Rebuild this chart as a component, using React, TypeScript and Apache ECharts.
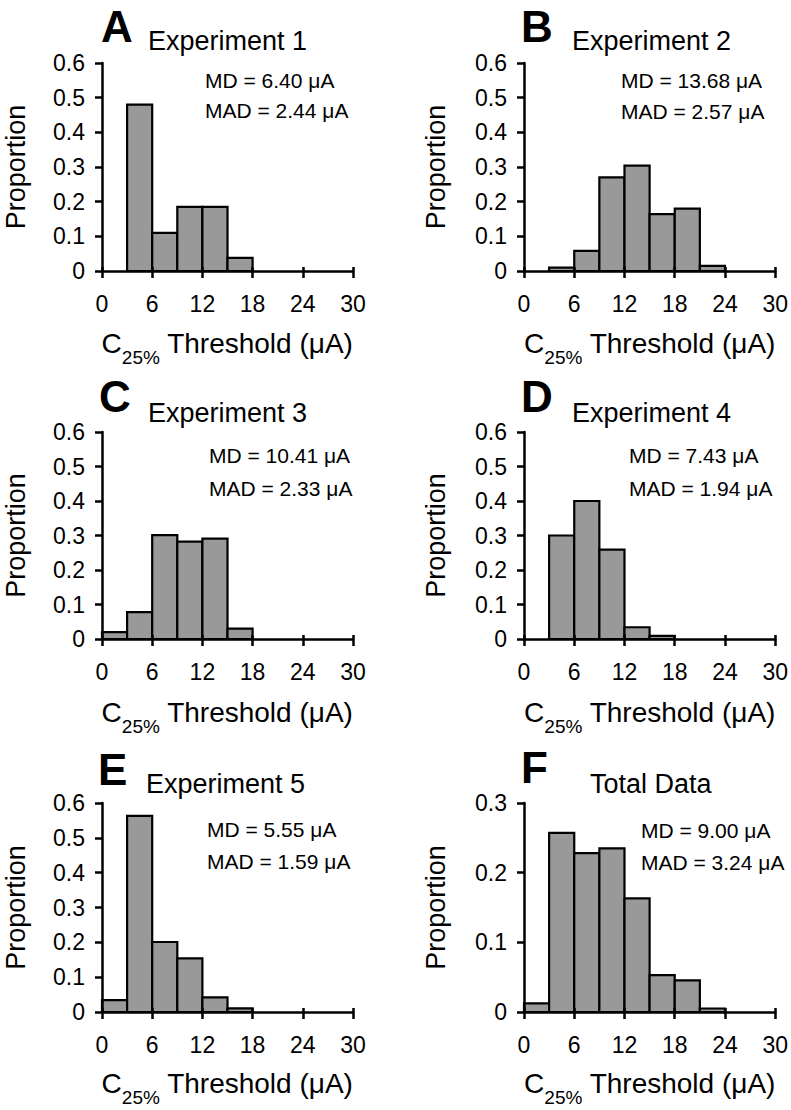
import React, { useEffect, useRef } from "react";
import * as echarts from "echarts";

// ---- data ----
const binEdges = [0, 3, 6, 9, 12, 15, 18, 21, 24, 27, 30];
const exp1 = [0, 0.48, 0.11, 0.185, 0.185, 0.038, 0, 0, 0, 0];
const exp2 = [0, 0.01, 0.058, 0.27, 0.304, 0.164, 0.18, 0.015, 0, 0];
const exp3 = [0.02, 0.078, 0.301, 0.282, 0.291, 0.03, 0, 0, 0, 0];
const exp4 = [0, 0.3, 0.4, 0.259, 0.034, 0.009, 0, 0, 0, 0];
const exp5 = [0.034, 0.563, 0.201, 0.154, 0.042, 0.0105, 0, 0, 0, 0];
const totalData = [0.0125, 0.257, 0.228, 0.235, 0.163, 0.053, 0.0455, 0.005, 0, 0];

const letters = ["A", "B", "C", "D", "E", "F"];
const titles = ["Experiment 1", "Experiment 2", "Experiment 3", "Experiment 4", "Experiment 5", "Total Data"];
const mdTexts = ["MD = 6.40 μA", "MD = 13.68 μA", "MD = 10.41 μA", "MD = 7.43 μA", "MD = 5.55 μA", "MD = 9.00 μA"];
const madTexts = ["MAD = 2.44 μA", "MAD = 2.57 μA", "MAD = 2.33 μA", "MAD = 1.94 μA", "MAD = 1.59 μA", "MAD = 3.24 μA"];
const yMaxes = [0.6, 0.6, 0.6, 0.6, 0.6, 0.3];
const seriesValues = [exp1, exp2, exp3, exp4, exp5, totalData];

// ---- layout ----
const gridBoxes = [
  { left: 102, top: 63, width: 251, height: 208 },
  { left: 524, top: 63, width: 252, height: 208 },
  { left: 102, top: 432, width: 251, height: 207 },
  { left: 524, top: 432, width: 252, height: 207 },
  { left: 102, top: 803, width: 251, height: 209 },
  { left: 524, top: 803, width: 252, height: 209 },
];
const letterPos = [
  [101, 42], [521, 42], [99, 412], [521, 412], [98, 785], [521, 783],
];
const titlePos = [
  [148, 50], [572, 50], [148, 422], [572, 422], [146, 793], [590, 793],
];
const mdPos = [
  [205, 88, 118], [621, 88, 119], [209, 463, 496], [629, 463, 496], [207, 837, 869], [641, 838, 870],
];
const xTitleBaseline = [353, 353, 722, 722, 1093, 1093];
const yTitleX = [16, 436, 16, 436, 16, 436];

const FONT = '"Liberation Sans", Arial, Helvetica, sans-serif';

function measure(text: string, size: number, weight = "normal") {
  const ctx = document.createElement("canvas").getContext("2d");
  if (!ctx) return text.length * size * 0.55;
  ctx.font = `${weight} ${size}px "Liberation Sans", Arial, sans-serif`;
  return ctx.measureText(text).width;
}

function txt(text: string, x: number, baseline: number, size: number, opts: any = {}) {
  const weight = opts.weight || "normal";
  const align = opts.align || "left";
  return {
    type: "text",
    x,
    y: baseline - 0.35 * size,
    silent: true,
    style: {
      text,
      fill: "#000",
      font: `${weight} ${size}px ${FONT}`,
      align,
      textAlign: align,
      verticalAlign: "middle",
      textVerticalAlign: "middle",
    },
  };
}

export default function App() {
  const ref = useRef<HTMLDivElement>(null);

  useEffect(() => {
    if (!ref.current) return;
    const chart = echarts.init(ref.current, undefined, { renderer: "svg", width: 791, height: 1110 });

    const grids: any[] = [];
    const xAxes: any[] = [];
    const yAxes: any[] = [];
    const series: any[] = [];
    const graphics: any[] = [];

    const mainSize = 28;
    const subSize = 19;
    const wC = measure("C", mainSize);
    const wSub = measure("25%", subSize);
    const wRest = measure(" Threshold (μA)", mainSize);
    const totalW = wC + wSub + wRest;

    const AX_W = 2.5;

    seriesValues.forEach((vals, i) => {
      const g = gridBoxes[i];
      grids.push({ ...g, containLabel: false });
      xAxes.push({
        type: "value",
        gridIndex: i,
        position: "bottom",
        min: 0,
        max: 30,
        interval: 6,
        z: 5,
        axisLine: { show: true, lineStyle: { color: "#000", width: AX_W } },
        axisTick: { show: true, inside: false, length: 7, lineStyle: { color: "#000", width: AX_W } },
        axisLabel: { show: true, color: "#000", fontSize: 23, fontFamily: FONT, margin: 21 },
        splitLine: { show: false },
      });
      xAxes.push({
        type: "value",
        gridIndex: i,
        position: "bottom",
        min: 0,
        max: 30,
        interval: 6,
        z: 5,
        axisLine: { show: false },
        axisTick: { show: true, inside: true, length: 4, lineStyle: { color: "#000", width: AX_W } },
        axisLabel: { show: false },
        splitLine: { show: false },
      });
      yAxes.push({
        type: "value",
        gridIndex: i,
        min: 0,
        max: yMaxes[i],
        interval: 0.1,
        z: 5,
        axisLine: { show: true, lineStyle: { color: "#000", width: AX_W } },
        axisTick: { show: true, inside: false, length: 7, lineStyle: { color: "#000", width: AX_W } },
        axisLabel: {
          show: true,
          color: "#000",
          fontSize: 23,
          fontFamily: FONT,
          margin: 17,
          formatter: (v: number) => (v === 0 ? "0" : v.toFixed(1)),
        },
        splitLine: { show: false },
      });
      const data = vals
        .map((v, k) => [binEdges[k], binEdges[k + 1], v])
        .filter((d) => d[2] > 0);
      series.push({
        type: "custom",
        coordinateSystem: "cartesian2d",
        xAxisIndex: 2 * i,
        yAxisIndex: i,
        encode: { x: [0, 1], y: 2 },
        z: 1,
        data,
        renderItem: (params: any, api: any) => {
          const x0 = api.value(0);
          const x1 = api.value(1);
          const y = api.value(2);
          const p0 = api.coord([x0, y]);
          const p1 = api.coord([x1, 0]);
          return {
            type: "rect",
            shape: { x: p0[0], y: p0[1], width: p1[0] - p0[0], height: p1[1] - p0[1] },
            style: { fill: "#999999", stroke: "#000", lineWidth: 2.2 },
          };
        },
      });

      // texts
      graphics.push(txt(letters[i], letterPos[i][0], letterPos[i][1], 44, { weight: "bold" }));
      graphics.push(txt(titles[i], titlePos[i][0], titlePos[i][1], 27));
      graphics.push(txt(mdTexts[i], mdPos[i][0], mdPos[i][1], 21));
      graphics.push(txt(madTexts[i], mdPos[i][0], mdPos[i][2], 21));

      const cx = g.left + g.width / 2;
      const startX = cx - totalW / 2;
      const base = xTitleBaseline[i];
      graphics.push(txt("C", startX, base, mainSize));
      graphics.push(txt("25%", startX + wC, base + 11, subSize));
      graphics.push(txt(" Threshold (μA)", startX + wC + wSub, base, mainSize));

      const cy = g.top + g.height / 2;
      graphics.push({
        type: "text",
        x: yTitleX[i],
        y: cy,
        rotation: Math.PI / 2,
        silent: true,
        style: {
          text: "Proportion",
          fill: "#000",
          font: `normal 27px ${FONT}`,
          align: "center",
          textAlign: "center",
          verticalAlign: "middle",
          textVerticalAlign: "middle",
        },
      });
    });

    chart.setOption({
      animation: false,
      backgroundColor: "#fff",
      textStyle: { fontFamily: FONT },
      grid: grids,
      xAxis: xAxes,
      yAxis: yAxes,
      series,
      graphic: { elements: graphics },
    });

    return () => chart.dispose();
  }, []);

  return (
    <div
      ref={ref}
      style={{ position: "absolute", left: 0, top: 0, width: 791, height: 1110, background: "#fff" }}
    />
  );
}
